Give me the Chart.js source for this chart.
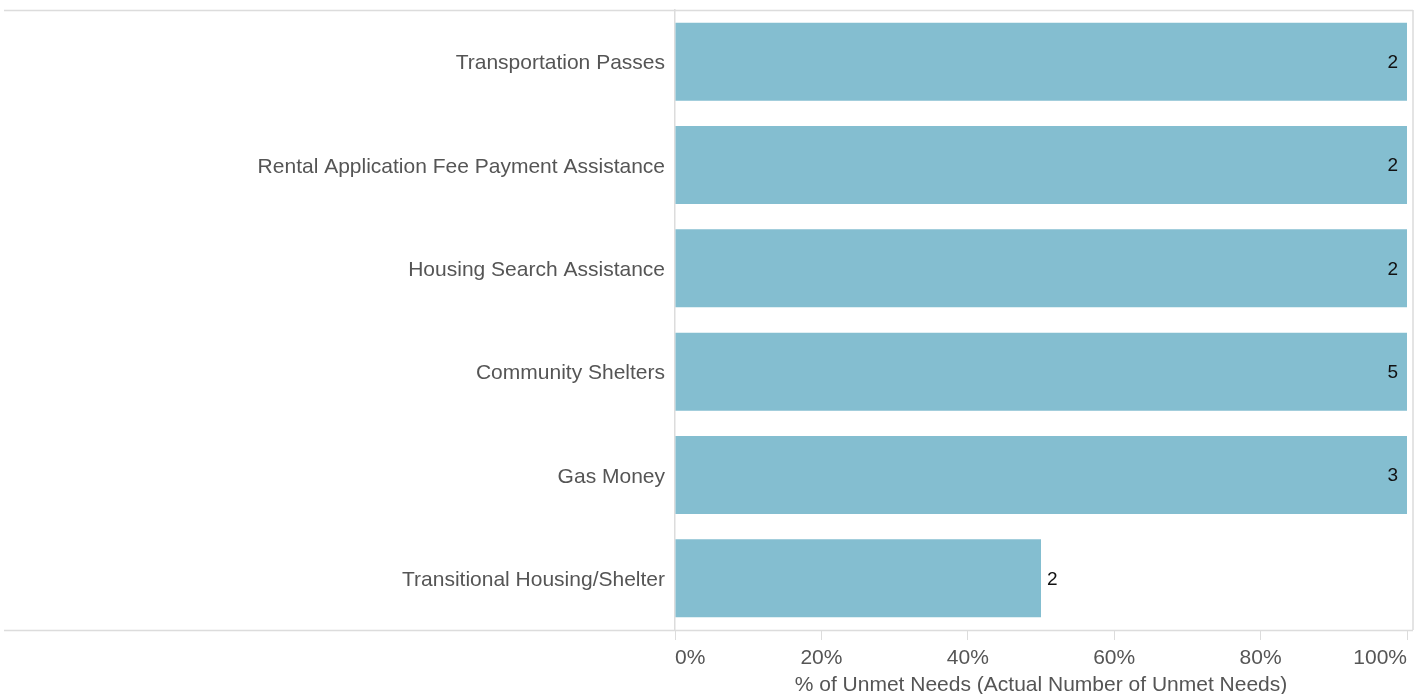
<!DOCTYPE html>
<html>
<head>
<meta charset="utf-8">
<script src="https://cdn.jsdelivr.net/npm/chart.js@4"></script>
<style>
  body { margin: 0; background: #fff; }
  #wrap { width: 1423px; height: 694px; }
</style>
</head>
<body>
<div id="wrap"><canvas id="needsChart" width="1423" height="694"></canvas></div>
<script>
const categories = [
    "Transportation Passes",
    "Rental Application Fee Payment Assistance",
    "Housing Search Assistance",
    "Community Shelters",
    "Gas Money",
    "Transitional Housing/Shelter"
];
const pctUnmet = [1.0, 1.0, 1.0, 1.0, 1.0, 0.5];
const countUnmet = [2, 2, 2, 5, 3, 2];
const xTicks = [0, 0.2, 0.4, 0.6, 0.8, 1.0];

const FONT = "'Liberation Sans', Arial, Helvetica, sans-serif";
const LINE = '#dcdcdc';

// frame lines and the count labels at the bar ends
const framePlugin = {
    id: 'frame',
    afterDraw(chart) {
        const { ctx, chartArea } = chart;
        const r = chartArea.right + 6;
        ctx.save();
        ctx.strokeStyle = LINE;
        ctx.lineWidth = 1.5;
        ctx.beginPath();
        ctx.moveTo(4, chartArea.top + 0.5);
        ctx.lineTo(r, chartArea.top + 0.5);
        ctx.moveTo(4, chartArea.bottom + 0.5);
        ctx.lineTo(r, chartArea.bottom + 0.5);
        ctx.moveTo(r, chartArea.top);
        ctx.lineTo(r, chartArea.bottom);
        ctx.stroke();

        ctx.font = `19px ${FONT}`;
        ctx.fillStyle = '#111';
        ctx.textBaseline = 'middle';
        chart.getDatasetMeta(0).data.forEach((bar, i) => {
            const txt = String(countUnmet[i]);
            const w = ctx.measureText(txt).width;
            if (bar.x + 6 + w <= chartArea.right) {
                ctx.textAlign = 'left';
                ctx.fillText(txt, bar.x + 6, bar.y + 1);
            } else {
                ctx.textAlign = 'right';
                ctx.fillText(txt, bar.x - 9, bar.y + 1);
            }
        });
        ctx.restore();
    }
};

new Chart(document.getElementById('needsChart'), {
    type: 'bar',
    data: {
        labels: categories,
        datasets: [{
            data: pctUnmet,
            backgroundColor: '#84bed0',
            borderWidth: 0,
            barPercentage: 0.755,
            categoryPercentage: 1.0
        }]
    },
    options: {
        indexAxis: 'y',
        responsive: false,
        animation: false,
        layout: { autoPadding: false, padding: { left: 4, top: 10, right: 16, bottom: 0 } },
        plugins: { legend: { display: false }, tooltip: { enabled: false } },
        scales: {
            x: {
                min: 0,
                max: 1,
                afterBuildTicks: (scale) => { scale.ticks = xTicks.map(v => ({ value: v })); },
                afterFit: (scale) => {
                    scale.height = 64;
                    scale.paddingLeft = 0;
                    scale.paddingRight = 0;
                },
                grid: { drawOnChartArea: false, drawTicks: true, tickLength: 10, color: LINE },
                border: { display: false },
                ticks: {
                    align: 'inner',
                    padding: 6,
                    color: '#555',
                    font: { family: FONT, size: 21 },
                    callback: (v) => Math.round(v * 100) + '%'
                },
                title: {
                    display: true,
                    text: '% of Unmet Needs (Actual Number of Unmet Needs)',
                    color: '#555',
                    font: { family: FONT, size: 21 },
                    padding: { top: 0, bottom: -4 }
                }
            },
            y: {
                afterFit: (scale) => {
                    scale.width = 671;
                    scale.paddingTop = 0;
                    scale.paddingBottom = 0;
                },
                grid: { display: false, drawTicks: false },
                border: { display: true, color: LINE, width: 1.5 },
                ticks: {
                    padding: 10,
                    labelOffset: 2,
                    color: '#555',
                    font: { family: FONT, size: 21 }
                }
            }
        }
    },
    plugins: [framePlugin]
});
</script>
</body>
</html>
